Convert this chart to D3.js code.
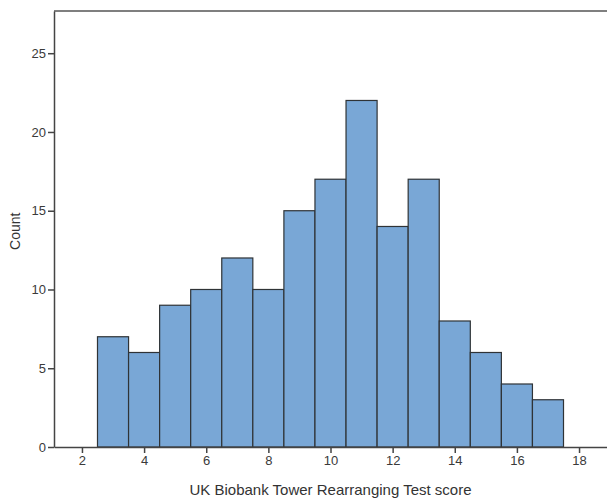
<!DOCTYPE html>
<html>
<head>
<meta charset="utf-8">
<script src="https://cdn.jsdelivr.net/npm/d3@7"></script>
<style>
  body { margin: 0; background: #fff; }
  svg { display: block; font-family: Arial, "Liberation Sans", sans-serif; }
</style>
</head>
<body>
<div id="chart"></div>
<script>
// histogram bins (centre score) and counts
const binCentres = [3, 4, 5, 6, 7, 8, 9, 10, 11, 12, 13, 14, 15, 16, 17];
const counts = [7, 6, 9, 10, 12, 10, 15, 17, 22, 14, 17, 8, 6, 4, 3];
const xTicks = [2, 4, 6, 8, 10, 12, 14, 16, 18];
const yTicks = [0, 5, 10, 15, 20, 25];

const svgWidth = 607;
const svgHeight = 502;
const margin = { top: 11, right: 0, bottom: 55, left: 54 };
const chartWidth = svgWidth - margin.left - margin.right;
const chartHeight = svgHeight - margin.top - margin.bottom;

const svg = d3.select("#chart")
  .append("svg")
  .attr("width", svgWidth)
  .attr("height", svgHeight)
  .append("g")
  .attr("transform", `translate(${margin.left},${margin.top})`);

const x = d3.scaleLinear()
  .domain([1.1, 18.9])
  .range([0, chartWidth]);

const y = d3.scaleLinear()
  .domain([0, 27.68])
  .range([chartHeight, 0]);

// bars
svg.selectAll("rect.bar")
  .data(binCentres)
  .enter()
  .append("rect")
  .attr("class", "bar")
  .attr("x", d => x(d - 0.5))
  .attr("width", d => x(d + 0.5) - x(d - 0.5))
  .attr("y", (d, i) => y(counts[i]))
  .attr("height", (d, i) => y(0) - y(counts[i]))
  .style("fill", "#79a7d6")
  .style("stroke", "#2f3336")
  .style("stroke-width", 1.2);

// frame line on top
svg.append("line")
  .attr("x1", 0).attr("x2", chartWidth)
  .attr("y1", 0).attr("y2", 0)
  .style("stroke", "#555").style("stroke-width", 1.5);

const xAxis = svg.append("g")
  .attr("transform", `translate(0,${chartHeight})`)
  .call(d3.axisBottom(x).tickValues(xTicks).tickSize(6).tickPadding(3).tickSizeOuter(0));

const yAxis = svg.append("g")
  .call(d3.axisLeft(y).tickValues(yTicks).tickSize(6).tickPadding(2).tickSizeOuter(0));

[xAxis, yAxis].forEach(g => {
  g.select(".domain").style("stroke", "#444").style("stroke-width", 1.5);
  g.selectAll(".tick line").style("stroke", "#444").style("stroke-width", 1.5);
  g.selectAll(".tick text")
    .style("font-size", "13px")
    .style("fill", "#3a3a3a")
    .style("font-family", "Arial, 'Liberation Sans', sans-serif");
});

// axis titles
svg.append("text")
  .attr("x", x(10))
  .attr("y", chartHeight + 48)
  .attr("text-anchor", "middle")
  .style("font-size", "15px")
  .style("fill", "#333")
  .text("UK Biobank Tower Rearranging Test score");

svg.append("text")
  .attr("transform", `translate(${-34},${y(13.7)}) rotate(-90)`)
  .attr("text-anchor", "middle")
  .style("font-size", "14px")
  .style("fill", "#333")
  .text("Count");
</script>
</body>
</html>
